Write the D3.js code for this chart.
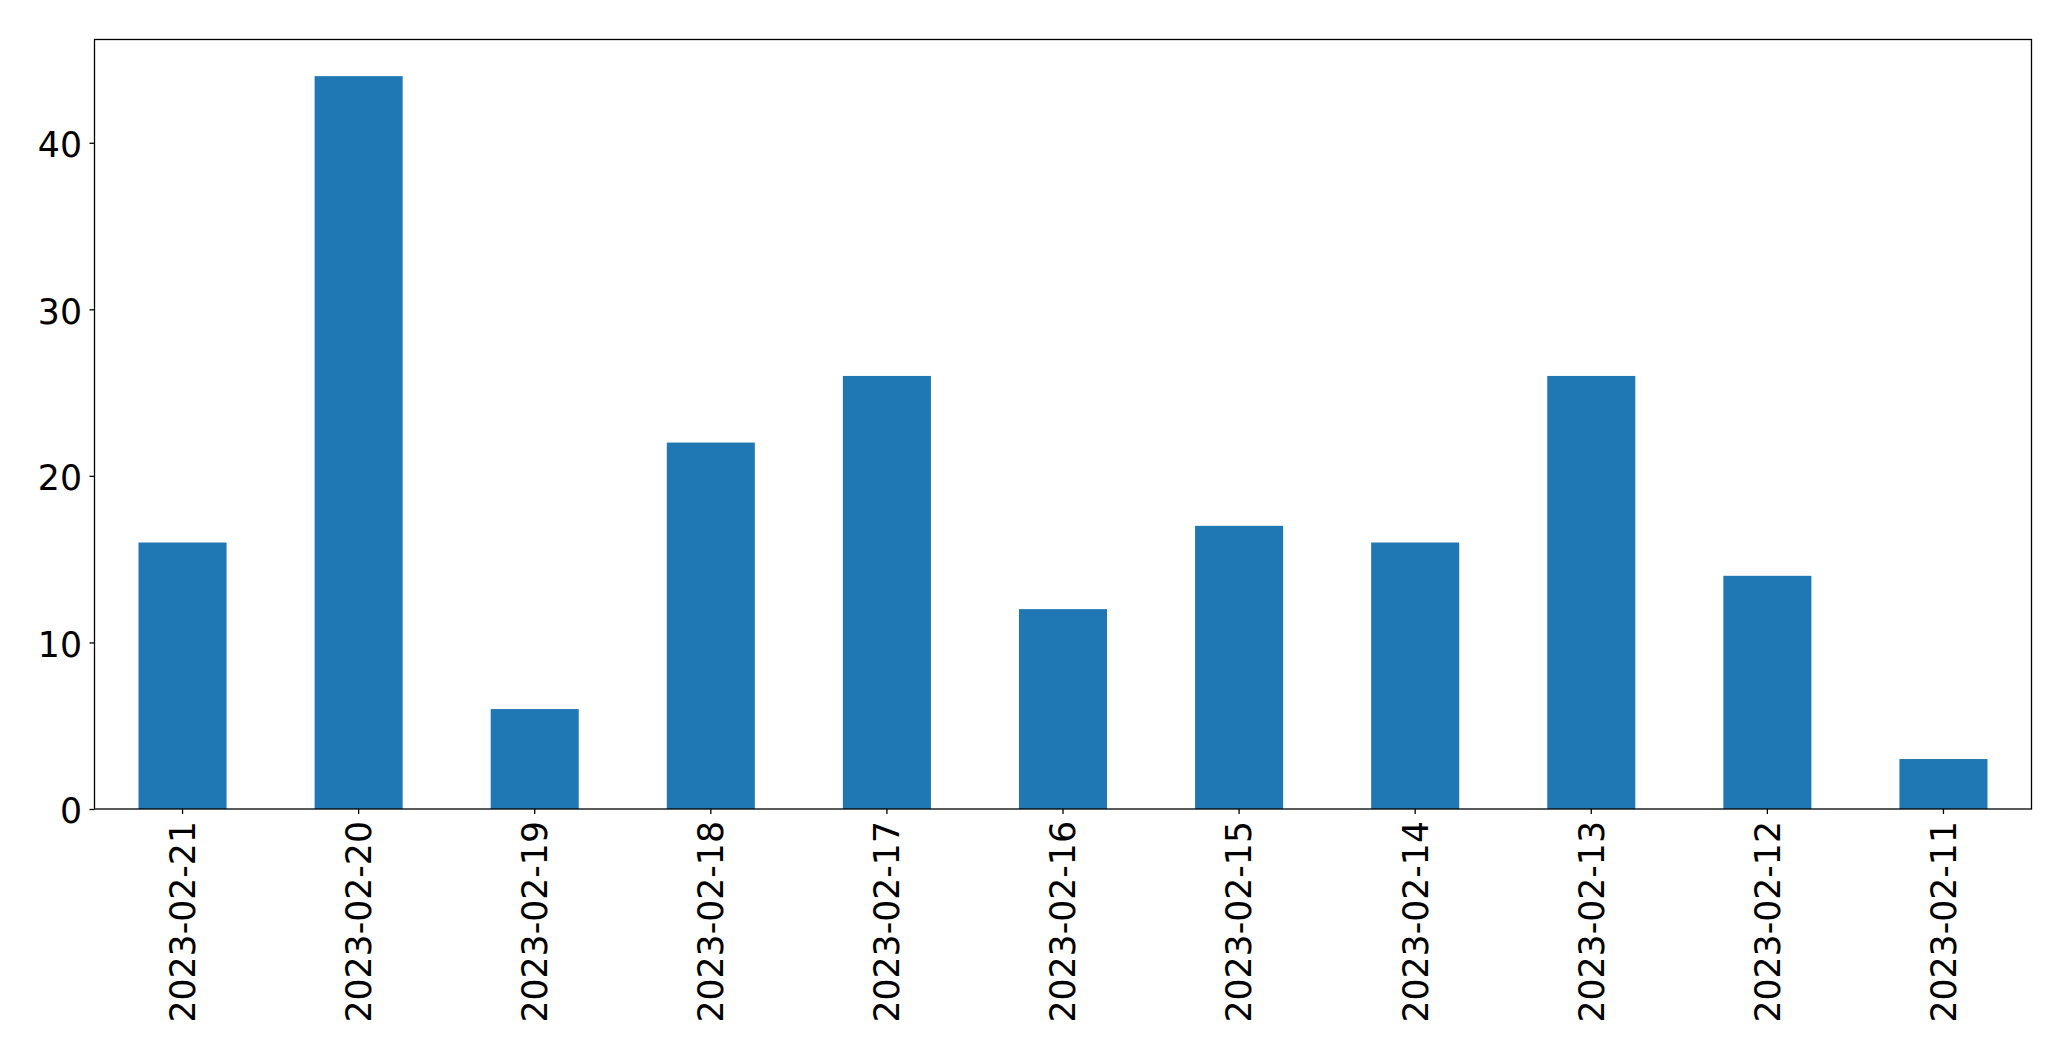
<!DOCTYPE html>
<html>
<head>
<meta charset="utf-8">
<script src="https://cdn.jsdelivr.net/npm/d3@7"></script>
<style>
  html, body { margin: 0; padding: 0; background: #fff; }
  svg { display: block; }
  text { font-family: "DejaVu Sans", sans-serif; fill: #000; }
</style>
</head>
<body>
<svg id="chart" width="2071" height="1061"></svg>
<script>
const categories = ["2023-02-21","2023-02-20","2023-02-19","2023-02-18","2023-02-17","2023-02-16","2023-02-15","2023-02-14","2023-02-13","2023-02-12","2023-02-11"];
const values = [16, 44, 6, 22, 26, 12, 17, 16, 26, 14, 3];
const yTicks = [0, 10, 20, 30, 40];

const svg = d3.select("#chart");
const plotLeft = 94.5, plotRight = 2031.5, plotTop = 39.5, plotBottom = 809;
const fontSize = 34.7;

const x = d3.scaleBand().domain(categories).range([plotLeft, plotRight]).paddingInner(0.5).paddingOuter(0.25);
const y = d3.scaleLinear().domain([0, d3.max(values) * 1.05]).range([plotBottom, plotTop]);

svg.append("g").selectAll("rect").data(values).join("rect")
  .attr("x", (d, i) => x(categories[i]))
  .attr("y", d => y(d))
  .attr("width", x.bandwidth())
  .attr("height", d => y(0) - y(d))
  .attr("fill", "#1f77b4");

// frame
svg.append("rect")
  .attr("x", plotLeft).attr("y", plotTop)
  .attr("width", plotRight - plotLeft).attr("height", plotBottom - plotTop)
  .attr("fill", "none").attr("stroke", "#000").attr("stroke-width", 1.3);

// y axis
const yAxis = d3.axisLeft(y).tickValues(yTicks).tickSize(5).tickPadding(7.5).tickFormat(d3.format("d"));
const gy = svg.append("g").attr("transform", `translate(${plotLeft},0)`).call(yAxis);
gy.select(".domain").remove();
gy.selectAll(".tick line").attr("stroke", "#000").attr("stroke-width", 1.3);
gy.selectAll(".tick text")
  .style("font-family", '"DejaVu Sans", sans-serif')
  .style("font-size", fontSize + "px")
  .attr("fill", "#000")
  .attr("dy", "0.40em");

// x axis
const xAxis = d3.axisBottom(x).tickSize(5).tickPadding(8);
const gx = svg.append("g").attr("transform", `translate(0,${plotBottom})`).call(xAxis);
gx.select(".domain").remove();
gx.selectAll(".tick line").attr("stroke", "#000").attr("stroke-width", 1.3);
gx.selectAll(".tick text")
  .style("font-family", '"DejaVu Sans", sans-serif')
  .style("font-size", fontSize + "px")
  .attr("fill", "#000")
  .attr("text-anchor", "end")
  .attr("transform", "translate(0,12) rotate(-90)")
  .attr("x", 0).attr("y", 0)
  .attr("dy", "0.355em");
</script>
</body>
</html>
